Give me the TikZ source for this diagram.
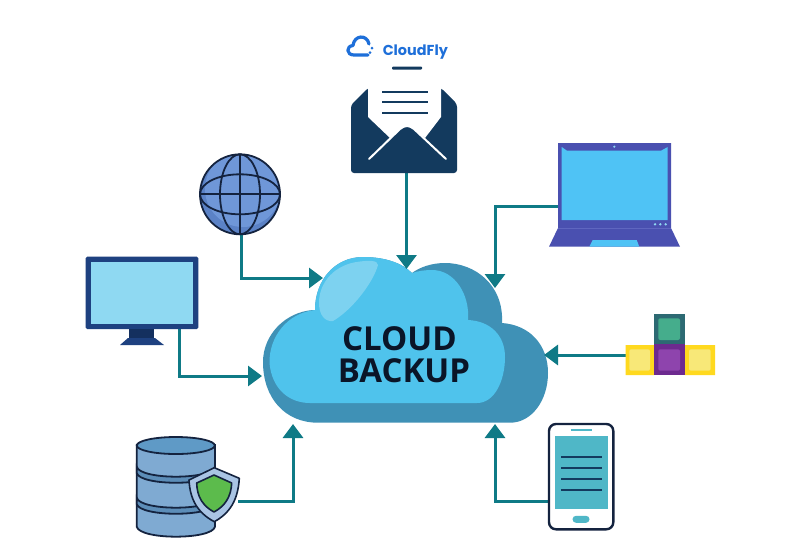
\documentclass[tikz,border=0pt]{standalone}
\usepackage{fontspec}
\setmainfont{Open Sans}
\newfontfamily\logofont{Poppins}
\usetikzlibrary{arrows.meta}
\definecolor{teal1}{HTML}{0F7A86}
\definecolor{cloudback}{HTML}{3F91B6}
\definecolor{cloudfront}{HTML}{4FC3EC}
\definecolor{cloudlight}{HTML}{7DD2F0}
\definecolor{navy}{HTML}{133A5E}
\definecolor{inkdark}{HTML}{14233F}
\definecolor{lapblue}{HTML}{4A50B0}
\definecolor{lapline}{HTML}{5F66C0}
\definecolor{lapscreen}{HTML}{4FC3F5}
\definecolor{monblue}{HTML}{1E4180}
\definecolor{monneck}{HTML}{14305F}
\definecolor{monscreen}{HTML}{8FD9F2}
\definecolor{logoblue}{HTML}{1E6FD9}
\definecolor{globefill}{HTML}{6F97D8}
\definecolor{globerim}{HTML}{5B82C6}
\definecolor{yellowa}{HTML}{FFD91F}
\definecolor{yellowb}{HTML}{F8E878}
\definecolor{tealtile}{HTML}{2D6A73}
\definecolor{greentile}{HTML}{45AD8C}
\definecolor{purplea}{HTML}{6D2A8F}
\definecolor{purpleb}{HTML}{8E44AD}
\definecolor{phonescreen}{HTML}{4FB7C7}
\definecolor{dbbody}{HTML}{7FAAD2}
\definecolor{dbtop}{HTML}{5F9AC6}
\definecolor{dbband}{HTML}{5C8DB8}
\definecolor{shieldrim}{HTML}{A9C4E4}
\definecolor{shieldgreen}{HTML}{5CBB4C}
\definecolor{textdark}{HTML}{0A1528}
\tikzset{
  link/.style={draw=teal1,line width=3pt,-{Triangle[length=14pt,width=20pt]}},
  textlabel/.style={inner sep=0pt,text=textdark},
  ink/.style={draw=inkdark,line width=1.8pt},
  tile/.style={rounded corners=2pt},
}
\begin{document}
\begin{tikzpicture}[x=1pt,y=-1pt]
\useasboundingbox (0,0) rectangle (800,550);
\fill[white] (0,0) rectangle (800,550);

% Endpoints
\coordinate (mailOut) at (406.5,170);
\coordinate (mailIn) at (406.5,269);
\coordinate (lapOut) at (559,206);
\coordinate (lapIn) at (495,288);
\coordinate (globeOut) at (241,233);
\coordinate (globeIn) at (323,278);
\coordinate (monOut) at (179,328);
\coordinate (monIn) at (262,376);
\coordinate (appOut) at (626,355);
\coordinate (appIn) at (544,355);
\coordinate (dbOut) at (238,501.5);
\coordinate (dbIn) at (293,424);
\coordinate (phoneOut) at (556,501.5);
\coordinate (phoneIn) at (495,424);

% Cloud
\fill[cloudback] (313,310) .. controls (285,312) and (263,335) .. (263,362)
  .. controls (263,398) and (285,422.7) .. (318,422.7) -- (510,422.7)
  .. controls (532,422.7) and (548,400) .. (548,373)
  .. controls (548,345) and (530,325) .. (502,323)
  .. controls (504,285) and (475,263) .. (445,263)
  .. controls (432,263) and (420,267) .. (412,273)
  .. controls (402,263) and (385,257) .. (363,257)
  .. controls (335,257) and (315,280) .. (315,310) -- cycle;
\fill[cloudfront] (315,310) .. controls (287,313) and (269,337) .. (269.5,363)
  .. controls (272,390) and (290,403) .. (310,403) -- (477,403)
  .. controls (495,403) and (505,380) .. (505,357)
  .. controls (505,335) and (490,321) .. (468,320)
  .. controls (470,295) and (455,270) .. (432,270)
  .. controls (425,270) and (418,271) .. (412,273)
  .. controls (402,263) and (385,257) .. (363,257)
  .. controls (335,257) and (315,280) .. (315,310) -- cycle;
\fill[cloudlight] (319,303) .. controls (319,282) and (335,264) .. (360,261.5)
  .. controls (368,260.5) and (378,260) .. (378,265)
  .. controls (373,283) and (352,310) .. (333,321)
  .. controls (325,322) and (319,315) .. (319,303) -- cycle;
\node[textlabel,font=\fontsize{33}{33}\selectfont\bfseries] (t1) at (399.5,339) {CLOUD};
\node[textlabel,font=\fontsize{33}{33}\selectfont\bfseries] (t2) at (404,371) {BACKUP};

% Connectors
\draw[link] (mailOut) -- (mailIn);
\draw[link] (lapOut) -| (lapIn);
\draw[link] (globeOut) |- (globeIn);
\draw[link] (monOut) |- (monIn);
\draw[link] (appOut) -- (appIn);
\draw[link] (dbOut) -| (dbIn);
\draw[link] (phoneOut) -| (phoneIn);

% Logo
\draw[logoblue,line width=3.2pt,line cap=round,line join=round]
  (368,55) -- (354,55) .. controls (346,55) and (346,46) .. (353,45.5)
  .. controls (354,35) and (367,34) .. (369,44);
\fill[logoblue] (372,48) circle (1.5pt) (370,52.5) circle (1.5pt);
\node[inner sep=0pt,text=logoblue,font=\logofont\fontsize{14.4}{14}\selectfont\bfseries] (logo) at (415.3,52) {CloudFly};

% Mail
\fill[navy,rounded corners=1pt] (392,66.5) rectangle (422,69.5);
\fill[navy,rounded corners=3pt] (351,105) -- (368,88) -- (441,88) -- (457,104) -- (457,173) -- (351,173) -- cycle;
\fill[white] (368,70) -- (441,70) -- (441,117) -- (425,138) -- (414,129)
  .. controls (409,125) and (405,125) .. (400,129) -- (390,138) -- (368,117) -- cycle;
\draw[navy,line width=2pt] (382,92) -- (428,92) (382,102) -- (428,102) (382,113) -- (428,113);
\draw[white,line width=2pt,line cap=round,line join=round]
  (369,159) -- (400,129) .. controls (405,125) and (409,125) .. (414,129) -- (446,159);

% Laptop
\fill[lapblue] (558,143) -- (671,143) -- (671,228) -- (680,246.7) -- (549,246.7) -- (558,228) -- cycle;
\draw[lapline,line width=0.5pt] (558,228.5) -- (671,228.5);
\fill[lapscreen] (561.7,147) -- (567,150.7) -- (661,150.7) -- (667.7,147) -- (667.7,220) -- (561.7,220) -- cycle;
\fill[lapscreen] (592.7,240) -- (636.7,240) -- (639.3,246.7) -- (589.3,246.7) -- cycle;
\fill[monscreen] (655,224.3) circle (1.3pt) (660.3,224.3) circle (1.3pt) (665.7,224.3) circle (1.3pt) (614.3,146.7) circle (1.2pt);

% Globe
\fill[globerim] (240,194.3) circle (40pt);
\begin{scope}
  \clip (240,194.3) circle (40pt);
  \fill[globefill] (243,189) circle (38pt);
\end{scope}
\draw[ink] (240,194.3) circle (40pt);
\draw[ink] (240,194.3) ellipse (20pt and 40pt) (240,194.3) ellipse (40pt and 20pt);
\draw[ink] (240,154.3) -- (240,234.3) (200,194.3) -- (280,194.3);

% Monitor
\fill[monblue,rounded corners=1.5pt] (85.7,256.7) rectangle (198.3,329);
\fill[monscreen] (91,261.7) rectangle (192.7,324);
\fill[monneck] (129.3,329) rectangle (154,338);
\fill[monblue] (128,338) -- (155,338) -- (164,345) -- (120,345) -- cycle;

% Apps
\fill[yellowa] (625.7,345) rectangle (654,375) (685,345) rectangle (715,375);
\fill[yellowb,tile] (629.3,349.3) rectangle (650,370.7) (689,349.3) rectangle (710.7,370.7);
\fill[tealtile] (654,314) rectangle (685,344.3);
\fill[greentile,tile] (658.3,318.3) rectangle (680,340);
\fill[purplea] (654,344.3) rectangle (685,375);
\fill[purpleb,tile] (658.3,349.3) rectangle (680,370.7);

% Phone
\draw[draw=inkdark,fill=white,line width=2.4pt,rounded corners=7pt] (549,424) rectangle (613.3,529.3);
\fill[phonescreen] (555,436) rectangle (607.7,509);
\draw[navy,line width=1.8pt] (561,456.7) -- (601.7,456.7) (561,467.7) -- (601.7,467.7) (561,478.7) -- (601.7,478.7) (561,489.7) -- (601.7,489.7);
\draw[phonescreen,line width=1.6pt] (570.7,430) -- (592,430);
\fill[phonescreen,rounded corners=3.5pt] (572.5,515.8) rectangle (589.5,522.8);

% Database
\path[fill=dbbody,draw=inkdark,line width=1.8pt]
  (136.7,445) -- (136.7,526.7) .. controls (140,540) and (212,540) .. (215,526.7) -- (215,445) -- cycle;
\draw[draw=inkdark,fill=dbtop,line width=1.8pt] (175.8,445.5) ellipse (39pt and 8.5pt);
\path[fill=dbband,draw=inkdark,line width=1.8pt]
  (136.7,466.7) .. controls (140,480) and (212,480) .. (215,466.7) -- (215,473)
  .. controls (212,486) and (140,486) .. (136.7,473) -- cycle;
\path[fill=dbband,draw=inkdark,line width=1.8pt]
  (136.7,497.7) .. controls (140,511) and (212,511) .. (215,497.7) -- (215,504)
  .. controls (212,517) and (140,517) .. (136.7,504) -- cycle;
\path[draw=inkdark,fill=shieldrim,line width=1.6pt,line join=round]
  (214.3,467.7) -- (239.3,478.3) .. controls (238,500) and (230,513) .. (214.3,521.7)
  .. controls (198,513) and (190,500) .. (189,480) -- cycle;
\path[draw=inkdark,fill=shieldgreen,line width=1.6pt,line join=round]
  (214,475) -- (231.7,483) .. controls (231,497) and (225,506) .. (214,512)
  .. controls (203,506) and (197,497) .. (196.7,483) -- cycle;
\end{tikzpicture}
\end{document}
